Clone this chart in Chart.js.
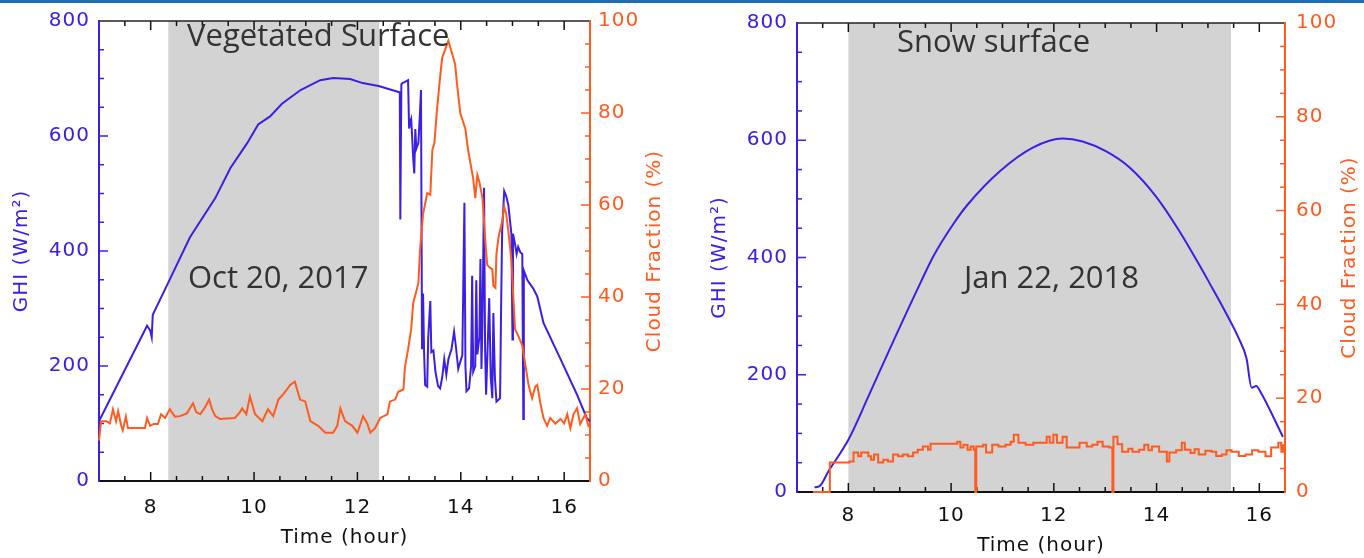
<!DOCTYPE html>
<html lang="en">
<head>
<meta charset="UTF-8">
<title>GHI and Cloud Fraction</title>
<script src="https://cdn.jsdelivr.net/npm/chart.js@4.4.1/dist/chart.umd.min.js"></script>
<style>
    html, body { margin: 0; padding: 0; background: #fff; }
    body { width: 1364px; height: 558px; position: relative; overflow: hidden; }
    .topbar { position: absolute; left: 0; top: 0; width: 1364px; height: 3px; background: #1f6db4; }
    .panel { position: absolute; top: 0; height: 558px; }
    .note { position: absolute; font-family: "Open Sans", sans-serif; font-size: 31px; line-height: 31px; color: #333; white-space: nowrap; }
</style>
</head>
<body>
<div class="topbar"></div>
<div class="panel" style="left:0;width:690px"><canvas id="octChart"></canvas></div>
<div class="panel" style="left:690px;width:674px"><canvas id="janChart"></canvas></div>
<div class="note" style="left:187px;top:19px">Vegetated Surface</div>
<div class="note" style="left:188px;top:261px">Oct 20, 2017</div>
<div class="note" style="left:897px;top:25px">Snow surface</div>
<div class="note" style="left:964px;top:261px">Jan 22, 2018</div>

<script>
    const GHI_COLOR = '#3b20e3';
    const CLOUD_COLOR = '#ff5b1f';
    const FONT = '"DejaVu Sans", sans-serif';

    // axis ticks (hours, W/m2, %)
    const hourTicks = [8, 10, 12, 14, 16];
    const ghiTicks = [0, 200, 400, 600, 800];
    const cloudTicks = [0, 20, 40, 60, 80, 100];

    // shaded intervals [start, end] in hours
    const octBand = [8.34, 12.42];
    const janBand = [8.0, 15.45];

    // Oct 20, 2017 - [hour, GHI W/m2]
    const octGhi = [
        [7.00, 104], [7.93, 270], [7.99, 262], [8.02, 250], [8.04, 289], [8.34, 345], [8.76, 424],
        [9.25, 492], [9.54, 544], [9.87, 588], [10.08, 620], [10.31, 634], [10.54, 656], [10.90, 680],
        [11.28, 697], [11.53, 701], [11.86, 699], [12.10, 692], [12.41, 687], [12.78, 677], [12.82, 676],
        [12.83, 455], [12.85, 690], [12.87, 692], [12.92, 694], [12.98, 697], [13.00, 613], [13.02, 625],
        [13.04, 630], [13.06, 596], [13.08, 560], [13.10, 535], [13.12, 612], [13.14, 578], [13.18, 588],
        [13.21, 640], [13.23, 680], [13.25, 229], [13.27, 326], [13.29, 224], [13.31, 167], [13.35, 164],
        [13.37, 250], [13.41, 313], [13.43, 224], [13.47, 227], [13.51, 190], [13.56, 165], [13.60, 161],
        [13.64, 180], [13.68, 212], [13.72, 185], [13.76, 212], [13.82, 229], [13.87, 260], [13.91, 230],
        [13.95, 195], [14.03, 219], [14.07, 484], [14.09, 200], [14.11, 156], [14.16, 161], [14.20, 200],
        [14.22, 357], [14.24, 190], [14.28, 200], [14.30, 349], [14.32, 220], [14.36, 250], [14.38, 386],
        [14.40, 195], [14.42, 280], [14.45, 510], [14.47, 230], [14.49, 150], [14.55, 318], [14.58, 180],
        [14.61, 144], [14.63, 292], [14.66, 180], [14.69, 138], [14.76, 144], [14.78, 300], [14.80, 434],
        [14.84, 504], [14.88, 495], [14.92, 480], [14.98, 429], [15.00, 246], [15.01, 430], [15.05, 412],
        [15.08, 395], [15.11, 407], [15.15, 398], [15.19, 395], [15.21, 108], [15.22, 366], [15.29, 349],
        [15.40, 335], [15.48, 321], [15.60, 275], [15.93, 212], [16.25, 150], [16.44, 109], [16.50, 104]
    ];

    // Oct 20, 2017 - [hour, cloud fraction %]
    const octCloud = [
        [7.00, 8.8], [7.04, 13], [7.14, 13], [7.21, 12.5], [7.27, 15.6], [7.33, 13], [7.37, 15.2],
        [7.43, 12], [7.46, 11], [7.52, 14], [7.56, 11.5], [7.66, 11.5], [7.89, 11.5], [7.93, 13.7],
        [7.99, 12], [8.06, 12.4], [8.14, 12.4], [8.20, 14.5], [8.28, 13.7], [8.37, 15.6], [8.47, 14],
        [8.57, 14.1], [8.70, 14.7], [8.82, 16.9], [8.88, 15], [8.96, 14.5], [9.05, 16], [9.13, 17.7],
        [9.19, 15.5], [9.25, 14.1], [9.34, 13.5], [9.63, 13.7], [9.73, 15], [9.77, 15.8], [9.85, 14.5],
        [9.92, 18.4], [10.02, 14.5], [10.16, 13], [10.27, 15.6], [10.37, 14.1], [10.47, 17.7], [10.56, 18.8],
        [10.70, 20.9], [10.79, 21.6], [10.89, 17.7], [10.99, 17.3], [11.09, 13], [11.24, 12], [11.38, 10.5],
        [11.53, 10.5], [11.61, 12], [11.67, 15.8], [11.76, 13], [11.90, 12], [12.00, 10.5], [12.11, 14.1],
        [12.19, 12.5], [12.25, 10.5], [12.34, 11.5], [12.44, 13.7], [12.58, 14.5], [12.63, 17.3], [12.73, 17.7],
        [12.79, 19.4], [12.89, 19.9], [12.92, 24.8], [12.98, 28.6], [13.04, 33], [13.08, 38.7], [13.18, 43],
        [13.21, 50], [13.27, 58], [13.35, 62.6], [13.41, 62.2], [13.45, 72], [13.49, 73.5], [13.54, 80.8],
        [13.60, 87.8], [13.64, 92], [13.76, 95.7], [13.83, 93], [13.89, 90.6], [13.93, 86], [13.99, 80],
        [14.09, 76.5], [14.14, 72], [14.22, 67], [14.24, 65.8], [14.28, 61.5], [14.32, 66.5], [14.36, 65],
        [14.42, 61.5], [14.47, 53], [14.51, 47], [14.55, 46.5], [14.61, 46], [14.63, 42.5], [14.67, 42],
        [14.69, 49.4], [14.73, 53], [14.80, 56.4], [14.84, 59.6], [14.88, 58], [14.92, 54.3], [14.98, 47.9],
        [15.02, 39.3], [15.05, 33], [15.11, 31.6], [15.19, 29.5], [15.25, 25.2], [15.31, 20.9], [15.38, 18],
        [15.44, 20.5], [15.48, 20.9], [15.54, 16.9], [15.60, 13.7], [15.67, 12], [15.73, 13.7], [15.83, 12.5],
        [15.93, 13.5], [16.00, 12.5], [16.06, 14.5], [16.12, 11.5], [16.18, 14.5], [16.25, 15.8], [16.31, 12.4],
        [16.41, 14.5], [16.47, 12], [16.50, 12.4]
    ];

    // Jan 22, 2018 - [hour, GHI W/m2]
    const janGhi = [
        [7.34, 8], [7.44, 10], [7.61, 35], [8.00, 89], [8.39, 163], [8.77, 237], [9.41, 358], [9.66, 403],
        [10.05, 458], [10.32, 490], [10.96, 548], [11.60, 588], [12.17, 603], [12.56, 598], [13.02, 581],
        [13.47, 554], [13.99, 504], [14.43, 447], [14.88, 380], [15.02, 358], [15.34, 307], [15.60, 262],
        [15.75, 228], [15.85, 178], [15.94, 181], [16.04, 168], [16.46, 94]
    ];

    // Jan 22, 2018 - [hour, cloud fraction %], held until the next reading
    const janCloud = [
        [7.31, 0], [7.64, 6.3], [8.02, 6.5], [8.10, 8.4], [8.19, 7.6], [8.25, 8.4], [8.39, 7.6], [8.44, 6.9],
        [8.50, 8.0], [8.58, 6.3], [8.68, 6.9], [8.77, 6.5], [8.87, 8.0], [8.97, 7.6], [9.06, 8.0], [9.16, 7.6],
        [9.26, 8.4], [9.35, 9.0], [9.45, 9.7], [9.55, 9.0], [9.60, 10.3], [10.12, 10.7], [10.18, 9.5],
        [10.24, 10.1], [10.32, 9.0], [10.38, 9.7], [10.44, 9.0], [10.47, 0], [10.49, 9.7], [10.62, 10.1],
        [10.68, 8.4], [10.80, 10.1], [10.92, 9.7], [11.06, 10.1], [11.16, 10.7], [11.22, 12.2], [11.31, 10.5],
        [11.45, 10.1], [11.60, 10.5], [11.86, 11.8], [11.92, 10.5], [11.99, 12.2], [12.06, 10.5], [12.17, 11.8],
        [12.25, 9.5], [12.50, 10.5], [12.64, 9.7], [12.75, 10.1], [12.85, 10.7], [12.95, 9.7], [13.08, 9.5],
        [13.14, 0], [13.16, 11.8], [13.24, 10.2], [13.33, 8.6], [13.45, 9.2], [13.53, 8.6], [13.66, 9.0],
        [13.76, 10.1], [13.84, 8.9], [13.91, 9.7], [14.05, 8.6], [14.20, 6.5], [14.25, 8.4], [14.38, 8.9],
        [14.49, 10.5], [14.55, 9.0], [14.66, 8.3], [14.74, 9.1], [14.82, 8.0], [14.95, 8.8], [15.07, 8.6],
        [15.16, 7.7], [15.27, 8.0], [15.36, 8.9], [15.46, 8.6], [15.60, 7.7], [15.73, 8.0], [15.86, 8.9],
        [15.98, 8.6], [16.12, 7.6], [16.23, 9.5], [16.37, 10.5], [16.43, 8.6], [16.46, 10.1]
    ];

    const toPoints = pairs => pairs.map(p => ({x: p[0], y: p[1]}));
    const fixTicks = values => scale => { scale.ticks = values.map(v => ({value: v})); };

    // the plot font runs wide, so space the canvas text a little
    const spacingPlugin = {
        id: 'spacing',
        beforeInit(chart) { chart.ctx.letterSpacing = '1px'; },
        beforeUpdate(chart) { chart.ctx.letterSpacing = '1px'; },
        beforeDraw(chart) { chart.ctx.letterSpacing = '1px'; }
    };

    // shaded interval, frame and inward tick marks, drawn under the lines
    const framePlugin = {
        id: 'frame',
        beforeDatasetsDraw(chart, args, opts) {
            const {ctx, chartArea: a, scales} = chart;
            const xs = scales.x, ys = scales.y, cs = scales.y2;
            ctx.save();

            const b0 = xs.getPixelForValue(opts.band[0]);
            const b1 = xs.getPixelForValue(opts.band[1]);
            ctx.fillStyle = '#d3d3d3';
            ctx.fillRect(b0, a.top, b1 - b0, a.bottom - a.top);

            const line = (color, w, x1, y1, x2, y2) => {
                ctx.strokeStyle = color;
                ctx.lineWidth = w;
                ctx.beginPath();
                ctx.moveTo(x1, y1);
                ctx.lineTo(x2, y2);
                ctx.stroke();
            };

            // hour ticks, top and bottom
            for (let v = xs.min + 0.5; v < xs.max; v += 0.5) {
                const px = xs.getPixelForValue(v);
                const len = v % 2 === 0 ? 9 : 5;
                line('#111', 1.5, px, a.bottom, px, a.bottom - len);
                line('#111', 1.5, px, a.top, px, a.top + len);
            }
            // GHI ticks, left
            for (let v = 50; v < ys.max; v += 50) {
                const py = ys.getPixelForValue(v);
                line(GHI_COLOR, 1.5, a.left, py, a.left + (v % 200 === 0 ? 9 : 5), py);
            }
            // cloud fraction ticks, right
            for (let v = 5; v < cs.max; v += 5) {
                const py = cs.getPixelForValue(v);
                line(CLOUD_COLOR, 1.5, a.right, py, a.right - (v % 20 === 0 ? 9 : 5), py);
            }

            line('#222', 1.5, a.left, a.top, a.right, a.top);
            line('#111', 2, a.left, a.bottom, a.right, a.bottom);
            line(GHI_COLOR, 2, a.left, a.top - 1, a.left, a.bottom + 1);
            line(CLOUD_COLOR, 2, a.right, a.top - 1, a.right, a.bottom + 1);
            ctx.restore();
        },
        afterDraw(chart, args, opts) {
            // right axis title reads bottom to top
            const {ctx, chartArea: a} = chart;
            ctx.save();
            ctx.translate(a.right + opts.cloudTitleOffset, (a.top + a.bottom) / 2);
            ctx.rotate(-Math.PI / 2);
            ctx.font = '20px ' + FONT;
            ctx.fillStyle = CLOUD_COLOR;
            ctx.textAlign = 'center';
            ctx.textBaseline = 'middle';
            ctx.fillText('Cloud Fraction (%)', 0, 0);
            ctx.restore();
        }
    };

    function buildChart(id, cfg) {
        const font = {family: FONT, size: 20};
        return new Chart(document.getElementById(id), {
            type: 'line',
            data: {
                datasets: [
                    {label: 'GHI', data: toPoints(cfg.ghi), yAxisID: 'y', borderColor: GHI_COLOR,
                     borderWidth: 2, pointRadius: 0, cubicInterpolationMode: cfg.ghiMode, clip: false, order: 2},
                    {label: 'Cloud Fraction', data: toPoints(cfg.cloud), yAxisID: 'y2', borderColor: CLOUD_COLOR,
                     borderWidth: 2, pointRadius: 0, stepped: cfg.stepped, clip: false, order: 1}
                ]
            },
            options: {
                responsive: true,
                maintainAspectRatio: false,
                animation: false,
                events: [],
                layout: {padding: {top: cfg.top, left: 0, right: 0, bottom: 0}},
                plugins: {
                    legend: {display: false},
                    tooltip: {enabled: false},
                    frame: {band: cfg.band, cloudTitleOffset: 65}
                },
                scales: {
                    x: {
                        type: 'linear', min: 7, max: 16.5,
                        grid: {display: false, drawTicks: false},
                        border: {display: false},
                        afterBuildTicks: fixTicks(hourTicks),
                        afterFit: s => { s.height = cfg.xHeight; },
                        ticks: {color: '#111', font: font, padding: cfg.xTickPad, maxRotation: 0},
                        title: {display: true, text: 'Time (hour)', color: '#111', font: font,
                                padding: {top: 0, bottom: cfg.xTitlePad}}
                    },
                    y: {
                        position: 'left', min: 0, max: 800,
                        grid: {display: false, drawTicks: false},
                        border: {display: false},
                        afterBuildTicks: fixTicks(ghiTicks),
                        afterFit: s => { s.width = cfg.leftWidth; },
                        ticks: {color: GHI_COLOR, font: font, padding: 9},
                        title: {display: true, text: 'GHI (W/m²)', color: GHI_COLOR, font: font,
                                padding: {top: cfg.yTitlePad, bottom: 0}}
                    },
                    y2: {
                        position: 'right', min: 0, max: 100,
                        grid: {display: false, drawTicks: false},
                        border: {display: false},
                        afterBuildTicks: fixTicks(cloudTicks),
                        afterFit: s => { s.width = cfg.rightWidth; },
                        ticks: {color: CLOUD_COLOR, font: font, padding: cfg.rightTickPad}
                    }
                }
            },
            plugins: [spacingPlugin, framePlugin]
        });
    }

    buildChart('octChart', {
        ghi: octGhi, cloud: octCloud, band: octBand, ghiMode: 'default', stepped: false,
        top: 13, xHeight: 77, leftWidth: 99, rightWidth: 100,
        xTickPad: 15, xTitlePad: 8, yTitlePad: 10, rightTickPad: 8
    });

    buildChart('janChart', {
        ghi: janGhi, cloud: janCloud, band: janBand, ghiMode: 'monotone', stepped: true,
        top: 16, xHeight: 66, leftWidth: 107, rightWidth: 79,
        xTickPad: 12, xTitlePad: 0, yTitlePad: 18, rightTickPad: 11
    });
</script>
</body>
</html>
